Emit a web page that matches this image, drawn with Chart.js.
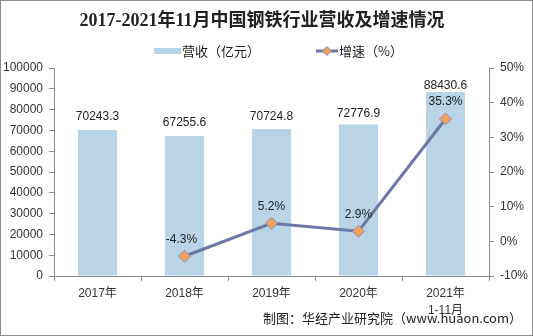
<!DOCTYPE html>
<html>
<head>
<meta charset="utf-8">
<script src="https://cdn.jsdelivr.net/npm/chart.js@4/dist/chart.umd.min.js"></script>
<style>
  html, body { margin: 0; padding: 0; background: #fff; }
  #wrap { width: 533px; height: 336px; position: relative; }
</style>
</head>
<body>
<div id="wrap"><canvas id="c" width="533" height="336"></canvas></div>
<script>
// Categories and series
const categories = ['2017年', '2018年', '2019年', '2020年', ['2021年', '1-11月']];
const revenue = [70243.3, 67255.6, 70724.8, 72776.9, 88430.6];   // 营收（亿元）
const growth = [null, -4.3, 5.2, 2.9, 35.3];                     // 增速（%）
const leftTicks = { min: 0, max: 100000, step: 10000 };
const rightTicks = { min: -10, max: 50, step: 10 };

const titleText = '2017-2021年11月中国钢铁行业营收及增速情况';
const sourceText = '制图：华经产业研究院（www.huaon.com）';

const BAR = '#b8d4e6';
const LINE = '#6d78a6';
const MARK = '#f2a25c';
const AXIS = '#8a8a8a';
const TXT = '#333333';
const SANS = "'Liberation Sans', Arial, 'Noto Sans CJK SC', sans-serif";

Chart.defaults.font.family = SANS;
Chart.defaults.font.size = 12;
Chart.defaults.color = TXT;

// Title, legend, source, border and value labels
const decor = {
  id: 'decor',
  beforeDraw(chart) {
    const ctx = chart.ctx;
    ctx.save();
    ctx.fillStyle = '#fff';
    ctx.fillRect(0, 0, chart.width, chart.height);
    ctx.restore();
  },
  afterDatasetsDraw(chart) {
    const ctx = chart.ctx;
    ctx.save();
    ctx.font = '12px ' + SANS;
    ctx.fillStyle = '#222';
    ctx.textAlign = 'center';
    ctx.textBaseline = 'middle';
    const barMeta = chart.getDatasetMeta(0);
    const barGap = [13, 13, 12, 11, 6];
    barMeta.data.forEach((el, i) => {
      ctx.fillText(revenue[i].toFixed(1), el.x, el.y - barGap[i]);
    });
    const lineMeta = chart.getDatasetMeta(1);
    lineMeta.data.forEach((el, i) => {
      if (growth[i] === null) return;
      const dx = i === 1 ? -3 : 0;
      ctx.fillText(growth[i].toFixed(1) + '%', el.x + dx, el.y - 17);
    });
    ctx.restore();
  },
  afterDraw(chart) {
    const ctx = chart.ctx;
    ctx.save();
    // title
    ctx.fillStyle = '#222';
    ctx.textAlign = 'center';
    ctx.textBaseline = 'middle';
    ctx.font = "bold 18px 'Liberation Serif', 'Times New Roman', 'Noto Sans CJK SC', serif";
    ctx.fillText(titleText, 262, 21);

    // legend
    ctx.font = "13px 'Noto Sans CJK SC', " + SANS;
    ctx.textAlign = 'left';
    ctx.fillStyle = BAR;
    ctx.fillRect(154, 48, 27, 6);
    ctx.fillStyle = '#222';
    ctx.fillText('营收（亿元）', 182, 51);

    ctx.strokeStyle = LINE;
    ctx.lineWidth = 3;
    ctx.beginPath();
    ctx.moveTo(316, 51);
    ctx.lineTo(338, 51);
    ctx.stroke();
    ctx.beginPath();
    ctx.moveTo(327, 46.5);
    ctx.lineTo(331.5, 51);
    ctx.lineTo(327, 55.5);
    ctx.lineTo(322.5, 51);
    ctx.closePath();
    ctx.fillStyle = MARK;
    ctx.fill();
    ctx.lineWidth = 1;
    ctx.strokeStyle = '#8b8fb3';
    ctx.stroke();
    ctx.fillStyle = '#222';
    ctx.fillText('增速（%）', 339, 51);

    // source
    ctx.textAlign = 'right';
    ctx.font = "13px 'Noto Sans CJK SC', " + SANS;
    ctx.fillText(sourceText, 522, 318);

    // frame
    ctx.strokeStyle = '#8c8c8c';
    ctx.lineWidth = 1;
    ctx.strokeRect(0.5, 0.5, chart.width - 1, chart.height - 1);
    ctx.restore();
  }
};

new Chart(document.getElementById('c'), {
  type: 'bar',
  data: {
    labels: categories,
    datasets: [
      {
        label: '营收（亿元）',
        data: revenue,
        backgroundColor: BAR,
        yAxisID: 'y',
        barPercentage: 0.45,
        categoryPercentage: 1,
        order: 2
      },
      {
        type: 'line',
        label: '增速（%）',
        data: growth,
        yAxisID: 'y1',
        borderColor: LINE,
        borderWidth: 3,
        pointStyle: 'rectRot',
        pointRadius: 6,
        pointBackgroundColor: MARK,
        pointBorderColor: '#8b8fb3',
        pointBorderWidth: 1,
        spanGaps: false,
        tension: 0,
        order: 1
      }
    ]
  },
  options: {
    responsive: false,
    animation: false,
    devicePixelRatio: 1,
    layout: { padding: { top: 68, left: 0, right: 0, bottom: 0 } },
    plugins: { legend: { display: false }, title: { display: false }, tooltip: { enabled: false } },
    scales: {
      x: {
        offset: true,
        grid: { offset: true, drawOnChartArea: false, color: AXIS, tickLength: 5 },
        border: { color: AXIS },
        ticks: { color: TXT, font: { size: 12, lineHeight: 1.4 }, padding: 4, maxRotation: 0 },
        afterFit(s) { s.height = 60; }
      },
      y: {
        position: 'left',
        min: leftTicks.min, max: leftTicks.max,
        ticks: { stepSize: leftTicks.step, color: TXT, padding: 6, callback: v => String(v) },
        grid: { drawOnChartArea: false, color: AXIS, tickLength: 5 },
        border: { color: AXIS },
        afterFit(s) { s.width = 54; }
      },
      y1: {
        position: 'right',
        min: rightTicks.min, max: rightTicks.max,
        ticks: { stepSize: rightTicks.step, color: TXT, padding: 6, callback: v => v + '%' },
        grid: { drawOnChartArea: false, color: AXIS, tickLength: 5 },
        border: { color: AXIS },
        afterFit(s) { s.width = 44; }
      }
    }
  },
  plugins: [decor]
});
</script>
</body>
</html>
